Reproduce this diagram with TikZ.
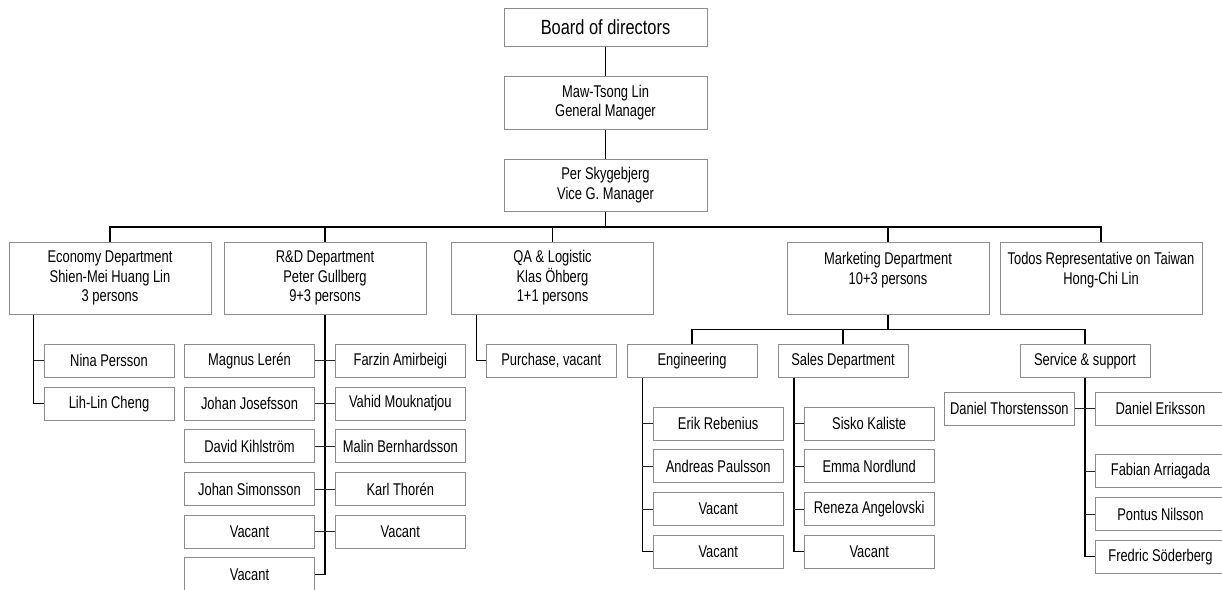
\documentclass[tikz,border=0pt]{standalone}
\usepackage{fontspec}
\setmainfont{Liberation Sans}[FakeStretch=0.76]
\newfontfamily\titlefont{Liberation Sans}[FakeStretch=0.8]
\definecolor{boxgray}{RGB}{140,140,140}
\begin{document}
\begin{tikzpicture}[x=1pt,y=-1pt,
  box/.style={draw=boxgray, line width=1pt, fill=white, inner sep=0pt,
    align=center, font=\fontsize{17}{19.5}\selectfont},
  unit/.style={box, minimum width=130pt, minimum height=33pt},
  dept/.style={box, minimum width=202pt, minimum height=72pt},
  head/.style={box, minimum width=203pt},
  link/.style={line width=1.1pt, black},
  stub/.style={line width=0.9pt, black!85}]
\useasboundingbox (0,0) rectangle (1222,589);
\clip (0,0) rectangle (1222,589);

% top of the organisation
\node[head, minimum height=38pt, font=\titlefont\fontsize{20.5}{24}\selectfont] (board) at (605.5,27) {Board of directors};
\node[head, minimum height=53pt] (gm) at (605.5,102.5) {Maw-Tsong Lin\\General Manager};
\node[head, minimum height=52pt] (vgm) at (605.5,185) {Per Skygebjerg\\Vice G. Manager};

% departments
\node[dept] (econ) at (110,278) {Economy Department\\Shien-Mei Huang Lin\\3 persons};
\node[dept] (rd) at (325,278) {R\&D Department\\Peter Gullberg\\9+3 persons};
\node[dept] (qa) at (552.5,278) {QA \& Logistic\\Klas Öhberg\\1+1 persons};
\node[dept] (mkt) at (888,278) {Marketing Department\\10+3 persons\\~};
\node[dept] (todos) at (1101,278) {Todos Representative on Taiwan\\Hong-Chi Lin\\~};

% economy staff
\node[unit] (nina) at (109,360.8) {Nina Persson};
\node[unit] (lih) at (109,403.6) {Lih-Lin Cheng};

% R&D staff
\node[unit] (rdl1) at (249.5,360.8) {Magnus Lerén};
\node[unit] (rdl2) at (249.5,403.5) {Johan Josefsson};
\node[unit] (rdl3) at (249.5,446.2) {David Kihlström};
\node[unit] (rdl4) at (249.5,489) {Johan Simonsson};
\node[unit] (rdl5) at (249.5,531.7) {Vacant};
\node[unit] (rdl6) at (249.5,574.4) {Vacant};
\node[unit] (rdr1) at (400.3,360.8) {Farzin Amirbeigi};
\node[unit] (rdr2) at (400.3,403.5) {Vahid Mouknatjou};
\node[unit] (rdr3) at (400.3,446.2) {Malin Bernhardsson};
\node[unit] (rdr4) at (400.3,489) {Karl Thorén};
\node[unit] (rdr5) at (400.3,531.7) {Vacant};

% QA staff
\node[unit] (purch) at (551.2,360.8) {Purchase, vacant};

% marketing groups
\node[unit] (eng) at (692,360.8) {Engineering};
\node[unit] (sales) at (843,360.8) {Sales Department};
\node[unit] (serv) at (1085,360.8) {Service \& support};

\node[unit] (eng1) at (718.2,423.7) {Erik Rebenius};
\node[unit] (eng2) at (718.2,466.4) {Andreas Paulsson};
\node[unit] (eng3) at (718.2,509.1) {Vacant};
\node[unit] (eng4) at (718.2,551.8) {Vacant};

\node[unit] (sal1) at (869.2,423.7) {Sisko Kaliste};
\node[unit] (sal2) at (869.2,466.4) {Emma Nordlund};
\node[unit] (sal3) at (869.2,509.1) {Reneza Angelovski};
\node[unit] (sal4) at (869.2,551.8) {Vacant};

\node[unit] (srv0) at (1009.4,408.7) {Daniel Thorstensson};
\node[unit] (srv1) at (1160.4,408.7) {Daniel Eriksson};
\node[unit] (srv2) at (1160.4,471.3) {Fabian Arriagada};
\node[unit] (srv3) at (1160.4,514) {Pontus Nilsson};
\node[unit] (srv4) at (1160.4,556.7) {Fredric Söderberg};

% guide coordinates for buses and trunks
\coordinate (bus) at (0,227);
\coordinate (mbus) at (0,329.3);
\coordinate (ectrunk) at (33.6,0);
\coordinate (qatrunk) at (476.5,0);
\coordinate (engtrunk) at (642.4,0);
\coordinate (saltrunk) at (794,0);

% connectors: management chain
\draw[link] (board.south) -- (gm.north);
\draw[link] (gm.south) -- (vgm.north);
\draw[link] (vgm.south) -- (vgm.south |- bus);
\draw[link] (econ.north) -- (econ.north |- bus) -| (todos.north);
\draw[link] (rd.north) -- (rd.north |- bus);
\draw[link] (qa.north) -- (qa.north |- bus);
\draw[link] (mkt.north) -- (mkt.north |- bus);

% economy
\draw[link] (econ.south -| ectrunk) |- (lih.west);
\draw[stub] (nina.west) -- (nina.west -| ectrunk);

% R&D
\draw[link] (rd.south) |- (rdl6.east);
\foreach \i in {1,...,5} {
  \draw[stub] (rdl\i.east) -- (rdr\i.west);
}

% QA
\draw[link] (qa.south -| qatrunk) |- (purch.west);

% marketing
\draw[link] (mkt.south) -- (mkt.south |- mbus);
\draw[link] (eng.north) -- (eng.north |- mbus) -| (serv.north);
\draw[link] (sales.north) -- (sales.north |- mbus);

\draw[link] (eng.south -| engtrunk) |- (eng4.west);
\foreach \i in {1,2,3} {
  \draw[stub] (eng\i.west) -- (eng\i.west -| engtrunk);
}
\draw[link] (sales.south -| saltrunk) |- (sal4.west);
\foreach \i in {1,2,3} {
  \draw[stub] (sal\i.west) -- (sal\i.west -| saltrunk);
}
\draw[link] (serv.south) |- (srv4.west);
\draw[stub] (srv0.east) -- (srv1.west);
\foreach \i in {2,3} {
  \draw[stub] (srv\i.west) -- (srv\i.west -| serv.south);
}
\end{tikzpicture}
\end{document}
